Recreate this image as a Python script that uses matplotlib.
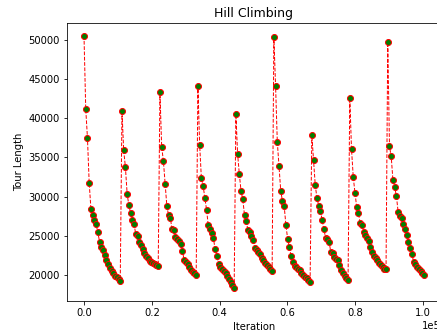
import numpy as np
import matplotlib
matplotlib.use("Agg")
import matplotlib.pyplot as plt

# tour length after each sampled step, one list per random restart
restart_1 = [50500, 41200, 37500, 31800, 28500, 27700, 27000, 26500, 25500, 24300, 23600,
             23200, 22600, 22000, 21500, 20900, 20550, 20250, 19950, 19750, 19500, 19320]
restart_2 = [40900, 35900, 33750, 30350, 28950, 27900, 27050, 26500, 25250, 24950, 24300,
             23850, 23300, 22800, 22450, 22150, 21870, 21700, 21530, 21400, 21270, 21180]
restart_3 = [43350, 36350, 34560, 31650, 28830, 27650, 27350, 25850, 25730, 24830, 24640,
             24400, 23950, 23100, 22000, 21740, 21420, 21130, 20670, 20420, 20250, 20080]
restart_4 = [44100, 36650, 32400, 31420, 29870, 28380, 26380, 25900, 25340, 24700, 23300,
             22460, 21420, 21100, 20800, 20500, 20250, 19950, 19600, 19150, 18800, 18350]
restart_5 = [40510, 35470, 32880, 30720, 29660, 27670, 26910, 25720, 25470, 25040, 24540,
             23430, 23260, 23010, 22710, 22160, 21910, 21570, 21320, 21100, 20760, 20550]
restart_6 = [50340, 44110, 36990, 33940, 30720, 29450, 28770, 26400, 24620, 23650, 22420,
             21700, 21230, 21020, 20850, 20680, 20340, 20090, 19830, 19660, 19410, 19200]
restart_7 = [37880, 34700, 31440, 29830, 28860, 28220, 26990, 25850, 24790, 24580, 24280,
             22970, 22840, 22330, 22080, 21910, 21320, 20720, 20260, 19920, 19700, 19410]
restart_8 = [42590, 36060, 32540, 30510, 28690, 27880, 26700, 26400, 25550, 25090, 24790,
             24320, 23650, 22930, 22500, 22160, 21910, 21570, 21270, 21060, 20810, 20770]
restart_9 = [49660, 36440, 35130, 32120, 31190, 30130, 28100, 27540, 27290, 26570, 25890,
             25130, 24280, 23480, 22710, 21700, 21400, 21100, 20850, 20550, 20260, 20000]

tour_length = (restart_1 + restart_2 + restart_3 + restart_4 + restart_5 +
               restart_6 + restart_7 + restart_8 + restart_9)
sample_every = 509  # iterations between recorded points
iterations = np.arange(len(tour_length)) * sample_every

plt.figure(figsize=(437 / 72, 335 / 72), dpi=72)
plt.plot(iterations, tour_length, 'r--', linewidth=1.0, marker='o', markerfacecolor='green',
         markeredgecolor='red', markersize=6)
plt.title('Hill Climbing', fontsize=12.5)
plt.xlabel('Iteration')
plt.ylabel('Tour Length')

ax = plt.gca()
ax.set_position([67 / 437, 34 / 335, 374 / 437, 278 / 335])
ax.ticklabel_format(axis='x', style='sci', scilimits=(0, 0))

plt.savefig('out.png', dpi=72)
